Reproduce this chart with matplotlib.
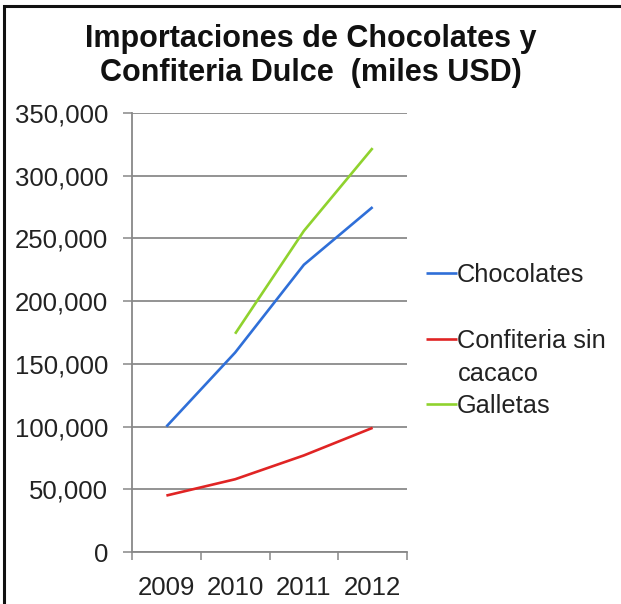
import matplotlib
matplotlib.use("Agg")
import matplotlib.pyplot as plt
from matplotlib.ticker import FuncFormatter, FixedLocator, NullFormatter
from matplotlib.patches import Rectangle
import numpy as np

plt.rcParams['font.family'] = ['Liberation Sans', 'DejaVu Sans']

years = ['2009', '2010', '2011', '2012']
chocolates = [100000, 159000, 229000, 275000]
confiteria = [45000, 58000, 77000, 99000]
galletas = [np.nan, 174000, 256000, 322000]

series = [
    ('Chocolates', chocolates, '#2f6fd8'),
    ('Confiteria sin', confiteria, '#e02424'),
    ('Galletas', galletas, '#8fd22e'),
]
legend_rows = [275, 341, 406]   # vertical pixel position of each legend entry
TEXT = '#222222'
FS = 18.5
LFS = 18.3

W, H = 621, 604
fig = plt.figure(figsize=(W / 100, H / 100), dpi=100)
fig.patch.set_facecolor('white')

# axes box in pixel terms
x0, x1, ytop, ybot = 132, 407, 113, 552
ax = fig.add_axes([x0 / W, 1 - ybot / H, (x1 - x0) / W, (ybot - ytop) / H])

xpos = np.arange(len(years)) + 0.5
lines = []
for label, vals, color in series:
    ln, = ax.plot(xpos, vals, color=color, lw=1.9, label=label, solid_capstyle='butt')
    lines.append(ln)

ax.set_xlim(0, len(years))
ax.set_ylim(0, 350000)
ax.set_yticks(np.arange(0, 350001, 50000))
ax.yaxis.set_major_formatter(FuncFormatter(lambda v, p: f"{int(v):,}"))

ax.xaxis.set_major_locator(FixedLocator(np.arange(len(years) + 1)))
ax.xaxis.set_major_formatter(NullFormatter())
ax.xaxis.set_minor_locator(FixedLocator(xpos))
ax.set_xticklabels(years, minor=True)
ax.tick_params(axis='x', which='minor', length=0, labelsize=FS, pad=17, colors=TEXT)
ax.tick_params(axis='x', which='major', length=5.5, width=1.1, color='#888888', direction='out')
ax.tick_params(axis='y', length=6.5, width=1.1, color='#888888', labelsize=FS,
               labelcolor=TEXT, pad=10.5, direction='out')

ax.grid(axis='y', color='#8a8a8a', lw=1.3)
ax.set_axisbelow(True)
for s in ['top', 'right']:
    ax.spines[s].set_visible(False)
for s in ['left', 'bottom']:
    ax.spines[s].set_color('#888888')
    ax.spines[s].set_linewidth(1.3)

# one legend per entry so each row sits at its own height
for ln, row in zip(lines, legend_rows):
    leg = fig.legend(handles=[ln], labels=[ln.get_label()], loc='center left',
                     bbox_to_anchor=(426 / W, 1 - row / H), frameon=False,
                     fontsize=LFS, handlelength=1.2, handletextpad=0.0,
                     borderaxespad=0, borderpad=0)
    for t in leg.get_texts():
        t.set_color(TEXT)
fig.text(458 / W, 1 - 374 / H, 'cacaco', ha='left', va='center', fontsize=LFS, color=TEXT)

fig.text(0.5, 1 - 47 / H, 'Importaciones de Chocolates y', ha='center', va='baseline',
         fontsize=22, fontweight='bold', color='#111111')
fig.text(0.5, 1 - 81 / H, 'Confiteria Dulce  (miles USD)', ha='center', va='baseline',
         fontsize=22, fontweight='bold', color='#111111')

fig.add_artist(Rectangle((4 / W, -0.1), 1.2, 1.1 - 6 / H, transform=fig.transFigure,
                         fill=False, edgecolor='#111111', lw=2.2))

fig.savefig('out.png', dpi=100, facecolor='white')
